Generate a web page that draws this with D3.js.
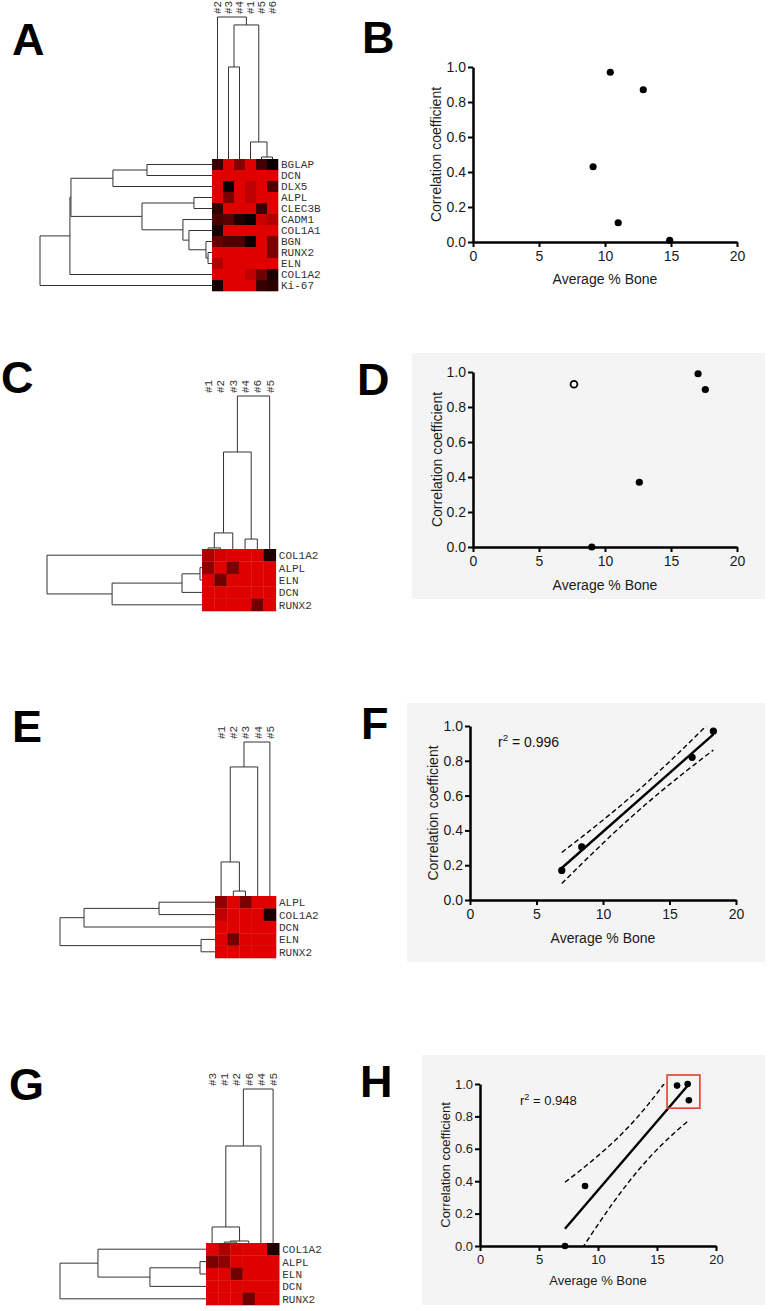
<!DOCTYPE html>
<html>
<head>
<meta charset="utf-8">
<script src="https://cdn.jsdelivr.net/npm/d3@7"></script>
<style>
  body { margin: 0; background: #fff; }
  svg { display: block; }
  text { font-family: "Liberation Sans", Arial, sans-serif; }
  .gene { font-family: "Liberation Mono", "Courier New", monospace; font-size: 11px; fill: #333; }
  .axis .domain { stroke: #000; stroke-width: 2.5px; }
  .axis .tick line { stroke: #000; stroke-width: 2px; }
  .axis .tick text { fill: #1a1a1a; font-family: "Liberation Sans", Arial, sans-serif; }
</style>
</head>
<body>
<svg id="fig" width="771" height="1311"></svg>
<script>
// ---- heatmap data (1 = bright red, 0 = black) ----
// trees are [left, right, height], leaves are names
const colsA = ["#2", "#3", "#4", "#1", "#5", "#6"];
const genesA = ["BGLAP", "DCN", "DLX5", "ALPL", "CLEC3B", "CADM1", "COL1A1", "BGN", "RUNX2", "ELN", "COL1A2", "Ki-67"];
const exprA = [
  [0.25, 1, 0.6, 1, 0.3, 0.05],
  [1, 1, 1, 1, 1, 1],
  [1, 0.05, 1, 0.85, 1, 0.35],
  [1, 0.55, 1, 0.85, 1, 1],
  [0.2, 1, 1, 1, 0.25, 1],
  [0.35, 0.4, 0.15, 0.05, 0.9, 0.8],
  [0.1, 1, 1, 1, 1, 1],
  [0.45, 0.35, 0.35, 0.05, 1, 0.55],
  [1, 1, 1, 1, 1, 0.55],
  [0.8, 1, 1, 1, 1, 1],
  [1, 1, 1, 0.85, 0.5, 0.1],
  [0.1, 1, 1, 1, 0.25, 0.2]
];
const colTreeA = ["#2", [["#3", "#4", 0.648], ["#1", ["#5", "#6", 0.014], 0.12], 0.944], 1];
const rowTreeA = [[[[["BGLAP", "DCN", 0.378], "DLX5", 0.576],
  [["ALPL", "CLEC3B", 0.105], ["CADM1", ["COL1A1", ["BGN", ["RUNX2", "ELN", 0.023], 0.035], 0.134], 0.169], 0.407],
  0.82], "COL1A2", 0.826], "Ki-67", 1];

const colsC = ["#1", "#2", "#3", "#4", "#6", "#5"];
const genesC = ["COL1A2", "ALPL", "ELN", "DCN", "RUNX2"];
const exprC = [
  [0.78, 0.95, 1, 1, 1, 0.15],
  [0.65, 1, 0.55, 1, 1, 1],
  [1, 0.5, 1, 1, 1, 1],
  [1, 1, 1, 1, 1, 1],
  [1, 1, 1, 1, 0.5, 1]
];
const colTreeC = [[[["#1", "#2", 0.007], "#3", 0.105], ["#4", "#6", 0.065], 0.634], "#5", 1];
const rowTreeC = ["COL1A2", [[["ALPL", "ELN", 0.013], "DCN", 0.129], "RUNX2", 0.58], 1];

const colsE = ["#1", "#2", "#3", "#4", "#5"];
const genesE = ["ALPL", "COL1A2", "DCN", "ELN", "RUNX2"];
const exprE = [
  [0.65, 1, 0.55, 1, 1],
  [0.85, 1, 1, 1, 0.12],
  [1, 1, 1, 1, 1],
  [1, 0.5, 1, 1, 1],
  [1, 1, 1, 1, 1]
];
const colTreeE = [[["#1", ["#2", "#3", 0.032], 0.221], "#4", 0.838], "#5", 1];
const rowTreeE = [[["ALPL", "COL1A2", 0.361], "DCN", 0.845], ["ELN", "RUNX2", 0.09], 1];

const colsG = ["#3", "#1", "#2", "#6", "#4", "#5"];
const genesG = ["COL1A2", "ALPL", "ELN", "DCN", "RUNX2"];
const exprG = [
  [1, 0.78, 0.95, 1, 1, 0.15],
  [0.55, 0.65, 1, 1, 1, 1],
  [1, 1, 0.5, 1, 1, 1],
  [1, 1, 1, 1, 1, 1],
  [1, 1, 1, 0.5, 1, 1]
];
const colTreeG = [[["#3", [["#1", "#2", 0.006], "#6", 0.013], 0.104], "#4", 0.63], "#5", 1];
const rowTreeG = [["COL1A2", [["ALPL", "ELN", 0.041], "DCN", 0.384], 0.74], "RUNX2", 1];

// ---- scatter data: x = average % bone, y = correlation coefficient ----
const boneB = [9.1, 10.4, 11.0, 12.9, 14.9];
const corrB = [0.43, 0.97, 0.11, 0.87, 0.01];
const boneD = [9.0, 12.6, 17.05, 17.6];
const corrD = [0.0, 0.37, 0.99, 0.90];
const boneDopen = [7.65];
const corrDopen = [0.93];
const boneF = [6.9, 8.4, 16.7, 18.3];
const corrF = [0.17, 0.305, 0.82, 0.97];
const boneH = [7.2, 8.9, 16.7, 17.6, 17.7];
const corrH = [0.0, 0.37, 0.99, 1.0, 0.90];
const boxedH = [2, 3, 4];
const r2Labels = { F: "0.996", H: "0.948" };

const xTicks = [0, 5, 10, 15, 20];
const yTicks = [0, 0.2, 0.4, 0.6, 0.8, 1.0];
const tCrit = { 2: 4.303, 3: 3.182 };

const svg = d3.select("#fig");
const heat = d3.interpolateRgb("#000000", "#df0000");

function toNode(t) {
  if (typeof t === "string") return { name: t, h: 0 };
  return { h: t[2], children: [toNode(t[0]), toNode(t[1])] };
}

function layoutTree(tree, band) {
  const root = d3.hierarchy(toNode(tree));
  root.eachAfter(d => {
    d.pos = d.children
      ? d3.mean(d.children, c => c.pos)
      : band(d.data.name) + band.bandwidth() / 2;
  });
  return root;
}

function drawHeatmap(p) {
  const g = svg.append("g");
  const x = d3.scaleBand().domain(p.cols).range([p.left, p.left + p.cols.length * p.cw]);
  const y = d3.scaleBand().domain(p.genes).range([p.top, p.top + p.genes.length * p.ch]);

  const cells = p.values.flatMap((row, i) => row.map((v, j) => ({ gene: p.genes[i], col: p.cols[j], v })));
  g.selectAll("rect.cell")
    .data(cells)
    .join("rect")
    .attr("class", "cell")
    .attr("x", d => x(d.col))
    .attr("y", d => y(d.gene))
    .attr("width", x.bandwidth() + 0.3)
    .attr("height", y.bandwidth() + 0.3)
    .attr("fill", d => heat(d.v));

  // column dendrogram on top
  const hy = d3.scaleLinear().domain([0, 1]).range([p.top, p.colRootY]);
  const ct = layoutTree(p.colTree, x);
  g.selectAll("path.ctree")
    .data(ct.descendants().filter(d => d.children))
    .join("path")
    .attr("class", "ctree")
    .attr("fill", "none")
    .attr("stroke", "#333")
    .attr("stroke-width", 1)
    .attr("d", d => {
      const [a, b] = d.children;
      return `M${a.pos},${hy(a.data.h)}V${hy(d.data.h)}H${b.pos}V${hy(b.data.h)}`;
    });

  // row dendrogram on the left
  const hx = d3.scaleLinear().domain([0, 1]).range([p.left, p.rowRootX]);
  const rt = layoutTree(p.rowTree, y);
  g.selectAll("path.rtree")
    .data(rt.descendants().filter(d => d.children))
    .join("path")
    .attr("class", "rtree")
    .attr("fill", "none")
    .attr("stroke", "#333")
    .attr("stroke-width", 1)
    .attr("d", d => {
      const [a, b] = d.children;
      return `M${hx(a.data.h)},${a.pos}H${hx(d.data.h)}V${b.pos}H${hx(b.data.h)}`;
    });

  // sample labels, rotated
  g.selectAll("text.sample")
    .data(p.cols)
    .join("text")
    .attr("class", "gene")
    .attr("transform", d => `translate(${x(d) + x.bandwidth() / 2},${p.colRootY - 3}) rotate(-90)`)
    .attr("dy", "0.35em")
    .text(d => d);

  // gene labels
  g.selectAll("text.row")
    .data(p.genes)
    .join("text")
    .attr("class", "gene")
    .attr("x", p.left + p.cols.length * p.cw + 3)
    .attr("y", d => y(d) + y.bandwidth() / 2)
    .attr("dy", "0.36em")
    .text(d => d);
}

function fitLine(xs, ys) {
  const n = xs.length, mx = d3.mean(xs), my = d3.mean(ys);
  const sxx = d3.sum(xs, v => (v - mx) ** 2);
  const sxy = d3.sum(xs.map((v, i) => (v - mx) * (ys[i] - my)));
  const b = sxy / sxx, a = my - b * mx;
  const sse = d3.sum(xs.map((v, i) => (ys[i] - a - b * v) ** 2));
  return { a, b, n, mx, sxx, s: Math.sqrt(sse / (n - 2)) };
}

function drawScatter(p) {
  const g = svg.append("g");
  const fs = p.fontSize || 14;
  if (p.bg) {
    g.append("rect")
      .attr("x", p.bg[0]).attr("y", p.bg[1])
      .attr("width", p.bg[2] - p.bg[0]).attr("height", p.bg[3] - p.bg[1])
      .attr("fill", "#f4f4f4");
  }
  const x = d3.scaleLinear().domain([0, 20]).range([p.x0, p.x1]);
  const y = d3.scaleLinear().domain([0, 1]).range([p.y0, p.y1]);

  if (p.fit) {
    const f = fitLine(p.xs, p.ys);
    const t = tCrit[f.n - 2];
    const lo = d3.min(p.xs), hi = d3.max(p.xs);
    const clipId = "clip" + p.name;
    g.append("clipPath").attr("id", clipId)
      .append("rect")
      .attr("x", p.x0).attr("y", p.y1)
      .attr("width", p.x1 - p.x0).attr("height", p.y0 - p.y1);
    const xsCurve = d3.range(0, 41).map(i => lo + (hi - lo) * i / 40);
    const half = v => t * f.s * Math.sqrt(1 / f.n + (v - f.mx) ** 2 / f.sxx);
    const line = d3.line().x(d => x(d[0])).y(d => y(d[1]));
    [1, -1].forEach(sign => {
      g.append("path")
        .attr("clip-path", `url(#${clipId})`)
        .attr("fill", "none")
        .attr("stroke", "#000")
        .attr("stroke-width", 1.4)
        .attr("stroke-dasharray", "5,3")
        .attr("d", line(xsCurve.map(v => [v, f.a + f.b * v + sign * half(v)])));
    });
    g.append("path")
      .attr("clip-path", `url(#${clipId})`)
      .attr("fill", "none")
      .attr("stroke", "#000")
      .attr("stroke-width", 2.4)
      .attr("d", line([[lo, f.a + f.b * lo], [hi, f.a + f.b * hi]]));

    const r2 = g.append("text")
      .attr("x", p.r2x).attr("y", p.r2y)
      .attr("font-size", fs).attr("fill", "#111");
    r2.append("tspan").text("r");
    r2.append("tspan").attr("font-size", fs * 0.7).attr("dy", -fs * 0.4).text("2");
    r2.append("tspan").attr("dy", fs * 0.4).text(" = " + r2Labels[p.name]);
  }

  const xAxis = g.append("g")
    .attr("class", "axis")
    .attr("transform", `translate(0,${p.y0})`)
    .call(d3.axisBottom(x).tickValues(xTicks).tickSize(5).tickSizeOuter(0).tickPadding(4));
  const yAxis = g.append("g")
    .attr("class", "axis")
    .attr("transform", `translate(${p.x0},0)`)
    .call(d3.axisLeft(y).tickValues(yTicks).tickFormat(d3.format(".1f")).tickSize(5).tickSizeOuter(0).tickPadding(2));
  [xAxis, yAxis].forEach(a => a.selectAll("text").attr("font-size", fs));

  g.append("text")
    .attr("x", (p.x0 + p.x1) / 2)
    .attr("y", p.y0 + p.titleGap)
    .attr("text-anchor", "middle")
    .attr("font-size", fs)
    .attr("fill", "#1a1a1a")
    .text("Average % Bone");
  g.append("text")
    .attr("transform", `translate(${p.x0 - p.ytGap},${(p.y0 + p.y1) / 2}) rotate(-90)`)
    .attr("text-anchor", "middle")
    .attr("dy", "0.35em")
    .attr("font-size", fs)
    .attr("fill", "#1a1a1a")
    .text("Correlation coefficient");

  const pts = p.xs.map((v, i) => ({ x: v, y: p.ys[i] }));
  g.selectAll("circle.pt")
    .data(pts)
    .join("circle")
    .attr("cx", d => x(d.x))
    .attr("cy", d => y(d.y))
    .attr("r", p.r || 3.6)
    .attr("fill", "#000");

  if (p.openXs) {
    g.selectAll("circle.open")
      .data(p.openXs.map((v, i) => ({ x: v, y: p.openYs[i] })))
      .join("circle")
      .attr("cx", d => x(d.x))
      .attr("cy", d => y(d.y))
      .attr("r", 3.4)
      .attr("fill", "#fff")
      .attr("stroke", "#000")
      .attr("stroke-width", 1.8);
  }

  if (p.boxed) {
    const sel = p.boxed.map(i => pts[i]);
    const bx0 = d3.min(sel, d => x(d.x)) - 10, bx1 = d3.max(sel, d => x(d.x)) + 11;
    const by0 = d3.min(sel, d => y(d.y)) - 9, by1 = d3.max(sel, d => y(d.y)) + 8;
    g.append("rect")
      .attr("x", bx0).attr("y", by0)
      .attr("width", bx1 - bx0).attr("height", by1 - by0)
      .attr("fill", "none")
      .attr("stroke", "#d4472b")
      .attr("stroke-width", 1.6);
  }
}

drawHeatmap({ cols: colsA, genes: genesA, values: exprA, colTree: colTreeA, rowTree: rowTreeA,
  left: 212, top: 159, cw: 11, ch: 11, colRootY: 17, rowRootX: 40 });
drawHeatmap({ cols: colsC, genes: genesC, values: exprC, colTree: colTreeC, rowTree: rowTreeC,
  left: 202, top: 549, cw: 12.3, ch: 12.4, colRootY: 396, rowRootX: 47 });
drawHeatmap({ cols: colsE, genes: genesE, values: exprE, colTree: colTreeE, rowTree: rowTreeE,
  left: 215, top: 896, cw: 12.2, ch: 12.4, colRootY: 742, rowRootX: 60 });
drawHeatmap({ cols: colsG, genes: genesG, values: exprG, colTree: colTreeG, rowTree: rowTreeG,
  left: 206, top: 1243, cw: 12.2, ch: 12.4, colRootY: 1089, rowRootX: 60 });

drawScatter({ name: "B", xs: boneB, ys: corrB, x0: 473, x1: 737, y0: 242, y1: 67, titleGap: 42, ytGap: 37 });
drawScatter({ name: "D", xs: boneD, ys: corrD, openXs: boneDopen, openYs: corrDopen,
  x0: 473, x1: 737, y0: 547, y1: 372, bg: [412, 353, 765, 599], titleGap: 43, ytGap: 36 });
drawScatter({ name: "F", xs: boneF, ys: corrF, fit: true, r2x: 498, r2y: 747,
  x0: 470, x1: 736, y0: 900, y1: 726, bg: [407, 703, 765, 962], titleGap: 43, ytGap: 37 });
drawScatter({ name: "H", xs: boneH, ys: corrH, fit: true, boxed: boxedH, r2x: 520, r2y: 1105, fontSize: 13, r: 3.3,
  x0: 480, x1: 716, y0: 1246, y1: 1084, bg: [422, 1055, 765, 1305], titleGap: 39, ytGap: 35 });

// panel letters
const letters = [
  { t: "A", x: 12, y: 55 }, { t: "B", x: 362, y: 53 },
  { t: "C", x: 1, y: 393 }, { t: "D", x: 357, y: 395 },
  { t: "E", x: 12, y: 742 }, { t: "F", x: 361, y: 739 },
  { t: "G", x: 9, y: 1100 }, { t: "H", x: 360, y: 1097 }
];
svg.selectAll("text.letter")
  .data(letters)
  .join("text")
  .attr("x", d => d.x)
  .attr("y", d => d.y)
  .attr("font-size", 45)
  .attr("font-weight", "bold")
  .attr("fill", "#000")
  .text(d => d.t);
</script>
</body>
</html>
